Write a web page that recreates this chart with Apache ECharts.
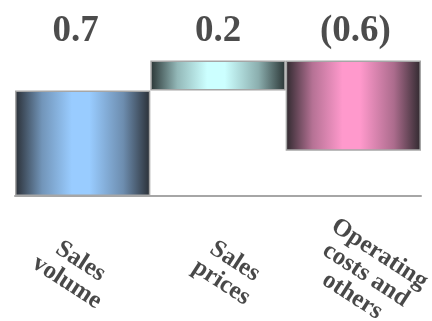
<!DOCTYPE html>
<html>
<head>
<meta charset="utf-8">
<script src="https://cdn.jsdelivr.net/npm/echarts@6/dist/echarts.min.js"></script>
<style>
  html, body { margin: 0; padding: 0; background: #ffffff; }
  #chart { width: 432px; height: 321px; }
</style>
</head>
<body>
<div id="chart"></div>
<script>
// Bridge steps (change per driver)
const categories = ['Sales\nvolume', 'Sales\nprices', 'Operating\ncosts and\nothers'];
const deltas = [0.7, 0.2, -0.6];
const lightColors = ['#99ccff', '#ccffff', '#ff99cc'];
const darkColors = ['#2a2f36', '#2a3535', '#2f292e'];

// Running totals give each step's floating base
const bases = [];
const heights = [];
let running = 0;
deltas.forEach(function (d) {
  const next = running + d;
  bases.push(Math.min(running, next));
  heights.push(Math.abs(d));
  running = next;
});

function fmt(v) {
  const s = Math.abs(v).toFixed(1);
  return v < 0 ? '(' + s + ')' : s;
}

function cylinder(light, dark) {
  return new echarts.graphic.LinearGradient(0, 0, 1, 0, [
    { offset: 0, color: dark },
    { offset: 0.2, color: echarts.color.lerp(0.65, [dark, light]) },
    { offset: 0.42, color: light },
    { offset: 0.55, color: light },
    { offset: 0.8, color: echarts.color.lerp(0.6, [dark, light]) },
    { offset: 1, color: dark }
  ]);
}

// Layout of the text rows (in value units of the y scale) and small nudges
const valueLabelLevel = 1.095;
const valueLabelNudge = [[-7, 0], [0, 0], [2, 0]];
const categoryLabelLevel = -0.504;
const categoryLabelNudge = [[-7.6, 4.9], [8.4, -5.5], [12.1, -4.3]];

const chart = echarts.init(document.getElementById('chart'), null, { renderer: 'canvas' });
chart.setOption({
  animation: false,
  backgroundColor: '#ffffff',
  grid: { left: 15, right: 11, top: 15.2, bottom: 125, containLabel: false, outerBoundsMode: 'none' },
  xAxis: {
    type: 'category',
    data: categories,
    axisLine: { show: true, lineStyle: { color: '#a6a6a6', width: 2 } },
    axisTick: { show: false },
    axisLabel: { show: false }
  },
  yAxis: {
    type: 'value',
    min: 0,
    max: 1.2,
    show: false,
    splitLine: { show: false }
  },
  series: [
    {
      type: 'bar',
      stack: 'bridge',
      data: bases,
      barCategoryGap: 0,
      itemStyle: { color: 'rgba(0,0,0,0)' },
      silent: true
    },
    {
      type: 'bar',
      stack: 'bridge',
      barCategoryGap: 0,
      data: heights.map(function (h, i) {
        return {
          value: h,
          itemStyle: {
            color: cylinder(lightColors[i], darkColors[i]),
            borderColor: '#a6a6a6',
            borderWidth: 1.5
          }
        };
      })
    },
    {
      // step values above the bars
      type: 'scatter',
      symbolSize: 0,
      silent: true,
      data: categories.map(function (c, i) {
        return { value: [i, valueLabelLevel, deltas[i]], label: { offset: valueLabelNudge[i] } };
      }),
      label: {
        show: true,
        position: 'inside',
        formatter: function (p) { return fmt(p.data.value[2]); },
        fontFamily: 'Liberation Serif',
        fontWeight: 'bold',
        fontSize: 37,
        color: '#1f1f1f'
      }
    },
    {
      // slanted category names under the axis
      type: 'scatter',
      symbolSize: 0,
      silent: true,
      clip: false,
      data: categories.map(function (c, i) {
        return { value: [i, categoryLabelLevel], name: c, label: { offset: categoryLabelNudge[i] } };
      }),
      label: {
        show: true,
        position: 'inside',
        rotate: -33,
        align: 'center',
        verticalAlign: 'middle',
        formatter: function (p) { return p.name; },
        fontFamily: 'Liberation Serif',
        fontWeight: 'bold',
        fontSize: 25,
        lineHeight: 25,
        color: '#1a1a1a'
      }
    }
  ]
});
</script>
</body>
</html>
